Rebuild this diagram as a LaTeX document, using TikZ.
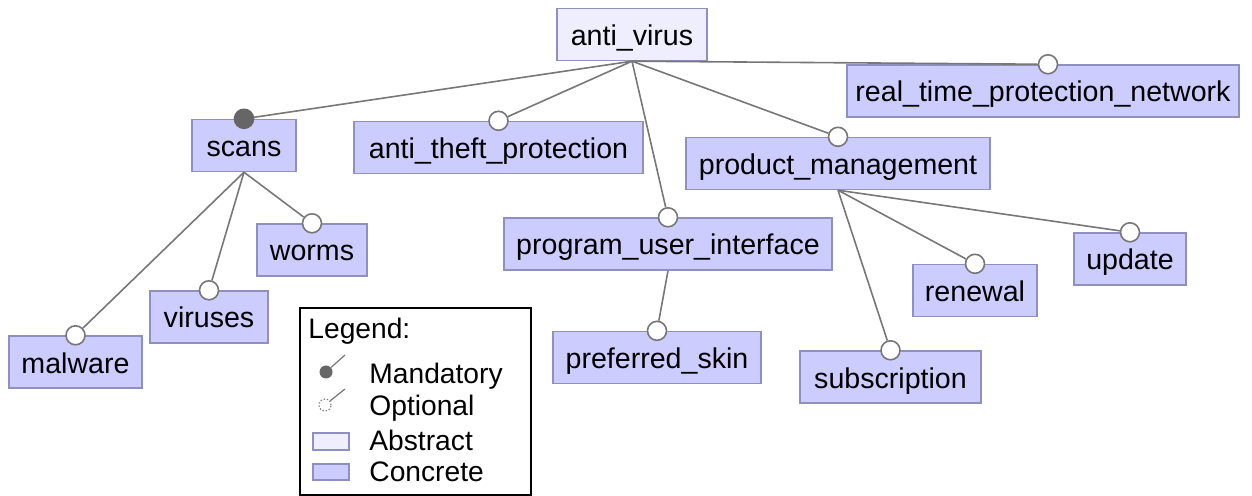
\documentclass[tikz,border=0pt]{standalone}
\usepackage{fontspec}
\setmainfont{Liberation Sans}
\definecolor{concfill}{HTML}{CCCCFF}
\definecolor{absfill}{HTML}{EEEEFF}
\definecolor{boxline}{HTML}{9090C0}
\definecolor{conline}{HTML}{777777}
\definecolor{mandfill}{HTML}{666666}
\tikzset{
  feat/.style={draw=boxline, line width=0.7pt, fill=concfill, inner sep=0pt, minimum height=26pt,
    text height=12pt, text depth=1pt,
    font=\fontsize{14.3}{17}\selectfont, anchor=center},
  absfeat/.style={feat, fill=absfill},
  opt/.style={circle, draw=conline, fill=white, line width=0.8pt, inner sep=0pt, minimum size=9.5pt},
  mand/.style={circle, draw=mandfill, fill=mandfill, line width=0.8pt, inner sep=0pt, minimum size=9.5pt},
  conn/.style={draw=conline, line width=0.8pt},
  legtext/.style={anchor=west, inner sep=0pt, font=\fontsize{14.1}{17}\selectfont}
}
\begin{document}
\begin{tikzpicture}[x=0.5pt, y=-0.5pt]
\useasboundingbox (0,0) rectangle (1252,496);
% feature boxes
\node[absfeat, minimum width=75pt] (av) at (632,34.5) {anti\_virus};
\node[feat, minimum width=52pt] (scans) at (244,145.5) {scans};
\node[feat, minimum width=144.5pt] (atp) at (498.5,147.5) {anti\_theft\_protection};
\node[feat, minimum width=152pt] (pm) at (838,163.5) {product\_management};
\node[feat, minimum width=196pt] (rtp) at (1043,91) {real\_time\_protection\_network};
\node[feat, minimum width=164pt] (pui) at (668,244) {program\_user\_interface};
\node[feat, minimum width=55pt] (worms) at (312,250) {worms};
\node[feat, minimum width=59pt] (viruses) at (209,317) {viruses};
\node[feat, minimum width=66.5pt] (malware) at (75.5,362) {malware};
\node[feat, minimum width=104pt] (skin) at (657,357.5) {preferred\_skin};
\node[feat, minimum width=90.5pt] (subs) at (890.5,377) {subscription};
\node[feat, minimum width=62pt] (renew) at (975,290.5) {renewal};
\node[feat, minimum width=56pt] (update) at (1130,259) {update};
% decorators
\node[mand] (c-scans) at (scans.north) {};
\node[opt] (c-atp) at (atp.north) {};
\node[opt] (c-pm) at (pm.north) {};
\node[opt] (c-rtp) at (rtp.north -| 1048,0) {};
\node[opt] (c-pui) at (pui.north) {};
\node[opt] (c-worms) at (worms.north) {};
\node[opt] (c-viruses) at (viruses.north) {};
\node[opt] (c-malware) at (malware.north) {};
\node[opt] (c-skin) at (skin.north) {};
\node[opt] (c-subs) at (subs.north) {};
\node[opt] (c-renew) at (renew.north) {};
\node[opt] (c-update) at (update.north) {};
% connectors
\path[conn] (av.south) -- (c-scans);
\path[conn] (av.south) -- (c-atp);
\path[conn] (av.south) -- (c-pui);
\path[conn] (av.south) -- (c-pm);
\path[conn] (av.south) -- (c-rtp);
\path[conn] (scans.south) -- (c-worms);
\path[conn] (scans.south) -- (c-viruses);
\path[conn] (scans.south) -- (c-malware);
\path[conn] (pui.south) -- (c-skin);
\path[conn] (pm.south) -- (c-subs);
\path[conn] (pm.south) -- (c-renew);
\path[conn] (pm.south) -- (c-update);
% legend
\node[draw=black, line width=1pt, fill=white, minimum width=115.5pt, minimum height=93.5pt, inner sep=0pt] (legend) at (415.5,401.5) {};
\node[legtext] (lg-title) at (308,331) {Legend:};
\coordinate (lm-end) at (345,355);
\node[circle, fill=mandfill, inner sep=0pt, minimum size=6.5pt] (lm-ic) at (326,372) {};
\draw[conline, line width=0.6pt] (lm-ic) -- (lm-end);
\node[legtext] (lm) at (369,376) {Mandatory};
\coordinate (lo-end) at (345,389);
\node[circle, draw=conline, densely dotted, fill=white, line width=0.6pt, inner sep=0pt, minimum size=6pt] (lo-ic) at (325,405) {};
\draw[conline, line width=0.6pt] (lo-ic) -- (lo-end);
\node[legtext] (lo) at (369,408) {Optional};
\node[draw=boxline, fill=absfill, line width=0.6pt, minimum width=18pt, minimum height=8.5pt, inner sep=0pt] (la-ic) at (331,441.5) {};
\node[legtext] (la) at (369,440) {Abstract};
\node[draw=boxline, fill=concfill, line width=0.6pt, minimum width=18pt, minimum height=8pt, inner sep=0pt] (lc-ic) at (331,472) {};
\node[legtext] (lc) at (369,472) {Concrete};
\end{tikzpicture}
\end{document}
